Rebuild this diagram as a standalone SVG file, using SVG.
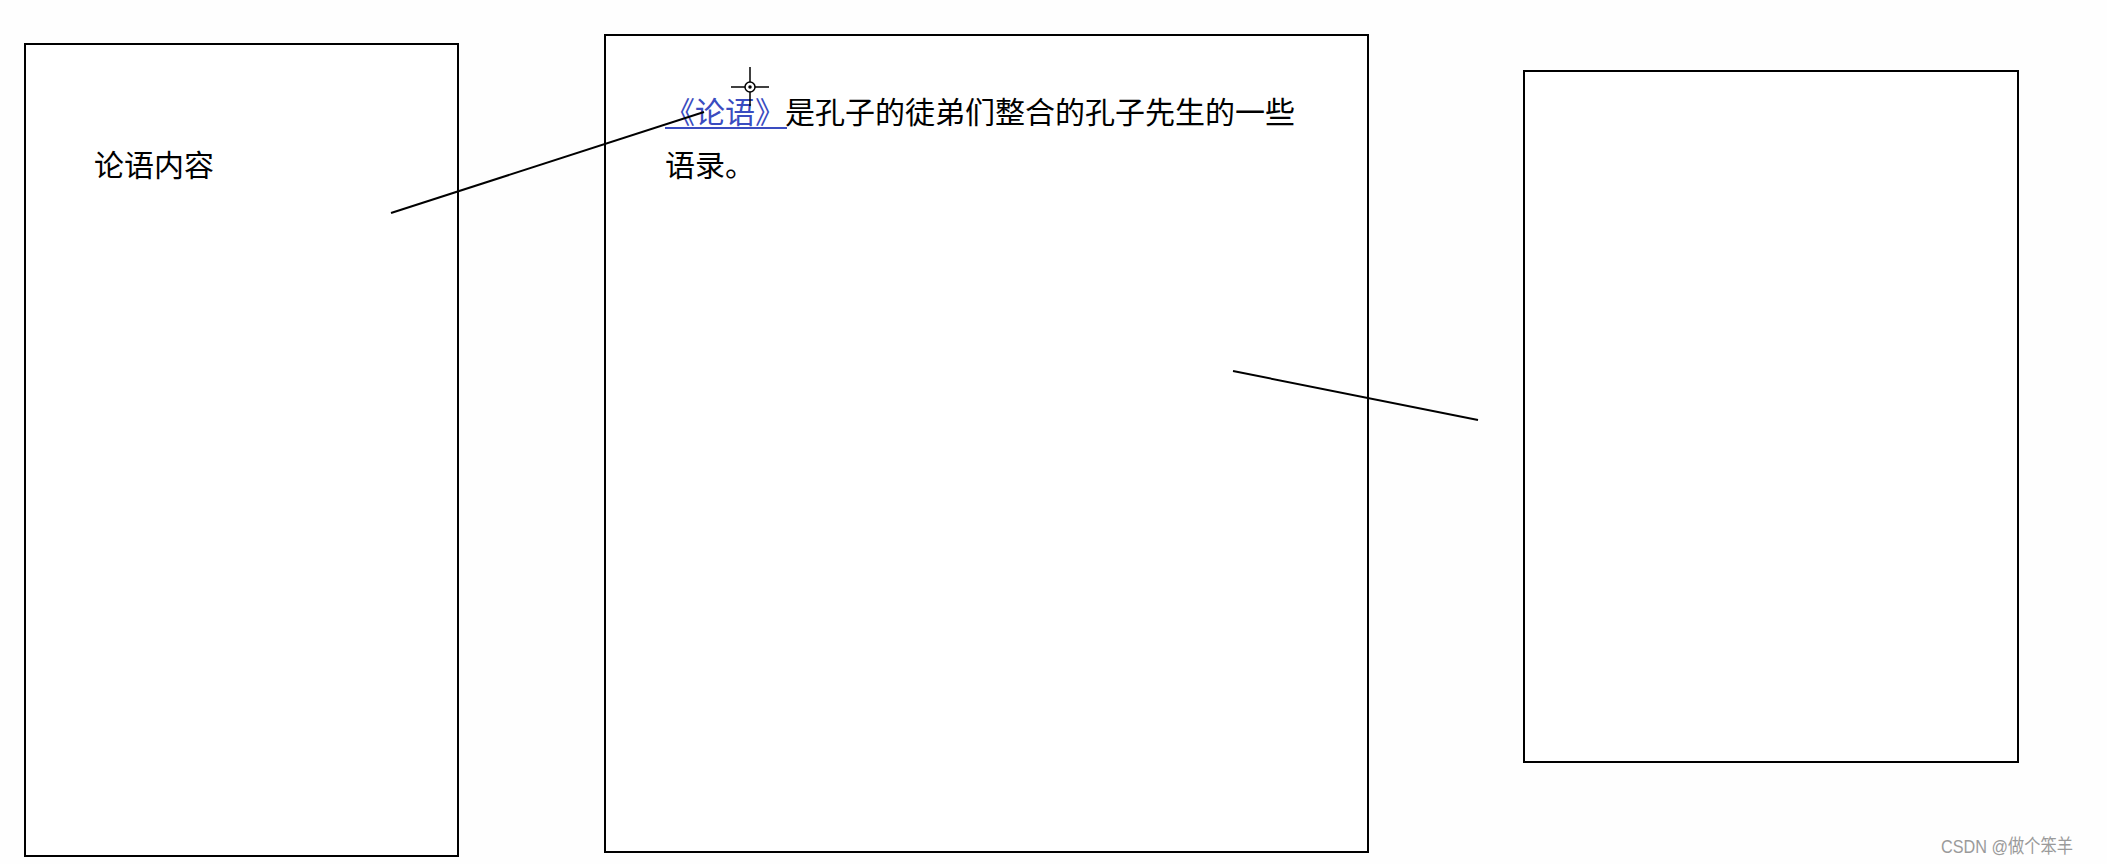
<svg xmlns="http://www.w3.org/2000/svg" width="2107" height="864" viewBox="0 0 2107 864">
<style>
.box{fill:#fff;stroke:#000;stroke-width:2}
.t{font-family:"Noto Sans CJK SC","Liberation Sans",sans-serif;font-size:30px;fill:#000}
.lnk{fill:#3a4cc0}
.conn{stroke:#000;stroke-width:2;fill:none}
.wm{font-family:"Liberation Sans","Noto Sans CJK SC",sans-serif;font-size:19px;fill:#9a9a9a}
</style>
<rect width="2107" height="864" fill="#fefefe"/>
<g id="node-left">
<rect class="box" x="25" y="44" width="433" height="812"/>
<text class="t" x="94" y="176">论语内容</text>
</g>
<g id="node-middle">
<rect class="box" x="605" y="35" width="763" height="817"/>
<text class="t" x="665" y="123"><tspan class="lnk">《论语》</tspan>是孔子的徒弟们整合的孔子先生的一些</text>
<line x1="665" y1="128" x2="787" y2="128" stroke="#3a4cc0" stroke-width="2"/>
<text class="t" x="665" y="176">语录。</text>
</g>
<g id="node-right">
<rect class="box" x="1524" y="71" width="494" height="691"/>
</g>
<g id="connectors">
<line class="conn" x1="391" y1="213" x2="704" y2="112"/>
<line class="conn" x1="1233" y1="371" x2="1478" y2="420"/>
</g>
<g id="cursor" stroke="#000" stroke-width="1.5" fill="none">
<line x1="750" y1="67" x2="750" y2="106"/>
<line x1="731" y1="87" x2="769" y2="87"/>
<circle cx="750" cy="87" r="5" fill="#fff"/>
<circle cx="750" cy="87" r="1" fill="#000"/>
</g>
<text class="wm" x="1941" y="853" textLength="132" lengthAdjust="spacingAndGlyphs">CSDN @做个笨羊</text>
</svg>
